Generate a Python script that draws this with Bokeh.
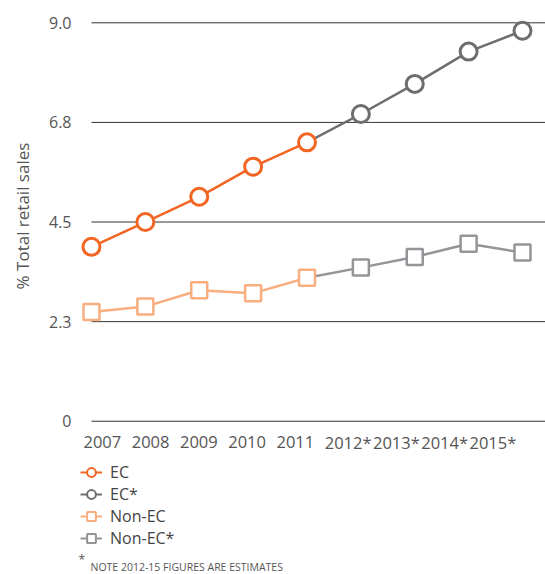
import math
from bokeh.plotting import figure
from bokeh.models import (Range1d, Legend, LegendItem, Label, ColumnDataSource)
from bokeh.core.properties import value
from bokeh.embed import file_html
from bokeh.resources import INLINE

# ---- data ----
years = ["2007", "2008", "2009", "2010", "2011", "2012*", "2013*", "2014*", "2015*"]
ec = [3.94, 4.50, 5.07, 5.75, 6.30, 6.94, 7.62, 8.35, 8.82]
non_ec = [2.47, 2.59, 2.96, 2.89, 3.24, 3.47, 3.71, 4.01, 3.81]
n_actual = 5  # 2007-2011 actual, 2012-2015 estimates
y_tick_values = [0, 2.25, 4.5, 6.75, 9.0]
y_tick_labels = ["0", "2.3", "4.5", "6.8", "9.0"]
y_title = "% Total retail sales"
series_labels = ["EC", "EC*", "Non-EC", "Non-EC*"]
note_text = "NOTE 2012-15 FIGURES ARE ESTIMATES"

# ---- styles ----
C_EC = "#f26522"
C_EC_EST = "#6d6e71"
C_NON = "#f9ae80"
C_NON_EST = "#939598"
C_GRID = "#333333"
FONT = "Open Sans"
TXT = "#555555"

W, H = 545, 574
xs = list(range(len(years)))
x_start, x_end = -1.689, 8.427
y_start, y_end = -3.462, 9.504

p = figure(width=W, height=H, output_backend="svg", toolbar_location=None,
           x_range=Range1d(x_start, x_end), y_range=Range1d(y_start, y_end),
           x_axis_location=None, y_axis_location=None,
           min_border=0, min_border_left=0, min_border_right=0,
           min_border_top=0, min_border_bottom=0)
# category labels sit on their own (slightly tighter) scale, as in the original
p.extra_x_ranges = {"labels": Range1d(-1.720, 9.575)}
p.outline_line_color = None
p.background_fill_color = "white"
p.border_fill_color = "white"
p.grid.visible = False

# gridlines from first category to right edge
n_t = len(y_tick_values)
p.segment(x0=[xs[0]] * n_t, x1=[x_end] * n_t, y0=y_tick_values, y1=y_tick_values,
          line_color=C_GRID, line_width=1)

# y tick labels
p.text(x=[xs[0]] * n_t, y=y_tick_values, text=y_tick_labels, x_offset=-20,
       text_align="right", text_baseline="middle", text_font=value(FONT),
       text_font_size=value("16px"), text_color=TXT)

# x tick labels
p.text(x=xs, y=[y_tick_values[0]] * len(xs), text=years, y_offset=21,
       x_range_name="labels",
       text_align="left", text_baseline="middle", text_font=value(FONT),
       text_font_size=value("16.5px"), text_color=TXT)

# y axis title
p.text(x=[xs[0]], y=[(y_tick_values[0] + y_tick_values[-1]) / 2], text=[y_title],
       x_offset=-68.5, y_offset=-6, angle=math.pi / 2,
       text_align="center", text_baseline="middle", text_font=value(FONT),
       text_font_size=value("17px"), text_color=TXT)

act = slice(0, n_actual)
est = slice(n_actual - 1, len(years))
est_pts = slice(n_actual, len(years))

# lines
p.line(xs[est], ec[est], line_color=C_EC_EST, line_width=2.5)
p.line(xs[est], non_ec[est], line_color=C_NON_EST, line_width=2.5)
p.line(xs[act], ec[act], line_color=C_EC, line_width=2.5)
p.line(xs[act], non_ec[act], line_color=C_NON, line_width=2.5)

# markers
p.scatter(xs[est_pts], non_ec[est_pts], marker="square", size=16, line_width=2.5,
          line_color=C_NON_EST, fill_color="white")
p.scatter(xs[act], non_ec[act], marker="square", size=16, line_width=2.5,
          line_color=C_NON, fill_color="white")
p.scatter(xs[est_pts], ec[est_pts], marker="circle", size=17, line_width=3,
          line_color=C_EC_EST, fill_color="white")
p.scatter(xs[act], ec[act], marker="circle", size=17, line_width=3,
          line_color=C_EC, fill_color="white")

# legend (legend-only renderers with no visible point, thinner strokes)
leg_specs = [(C_EC, "circle"), (C_EC_EST, "circle"), (C_NON, "square"), (C_NON_EST, "square")]
items = []
for lab, (col, mk) in zip(series_labels, leg_specs):
    src = ColumnDataSource(data=dict(x=[float("nan")], y=[float("nan")]))
    lr = p.line("x", "y", source=src, line_color=col, line_width=2)
    sr = p.scatter("x", "y", source=src, marker=mk, line_color=col, line_width=2, fill_color="white")
    items.append(LegendItem(label=lab, renderers=[lr, sr], index=0))

legend = Legend(items=items, location=(80, 25), orientation="vertical",
                background_fill_alpha=0, border_line_color=None,
                padding=0, margin=0, spacing=0,
                glyph_width=22, glyph_height=22, label_height=22,
                label_standoff=8,
                label_text_font=FONT, label_text_font_size="16px", label_text_color="#444444")
p.add_layout(legend, "center")

# footnote
p.add_layout(Label(x=78, y=15, x_units="screen", y_units="screen", text="*",
                   text_font=FONT, text_font_size="12px", text_color=TXT,
                   text_baseline="middle"))
p.add_layout(Label(x=90, y=8, x_units="screen", y_units="screen", text=note_text,
                   text_font=FONT, text_font_size="10.5px", text_color=TXT,
                   text_baseline="middle"))

open("out.html", "w").write(file_html(p, INLINE))
